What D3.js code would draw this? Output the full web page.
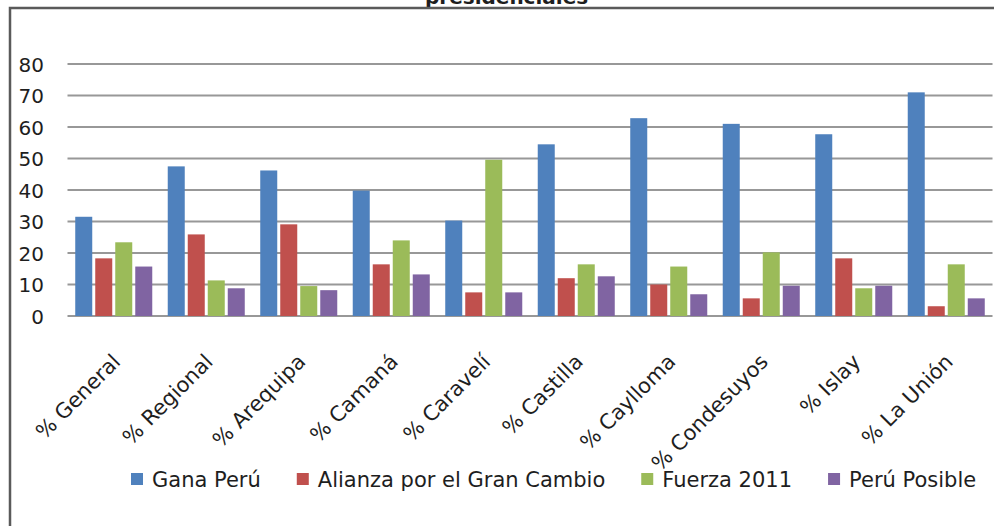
<!DOCTYPE html>
<html>
<head>
<meta charset="utf-8">
<script src="https://cdn.jsdelivr.net/npm/d3@7"></script>
<style>
  html, body { margin: 0; padding: 0; background: #fff; }
  svg { display: block; }
  text { font-family: "DejaVu Sans", sans-serif; fill: #1e1e1e; }
</style>
</head>
<body>
<svg id="chart" width="994" height="526"></svg>
<script>
const categories = ["% General", "% Regional", "% Arequipa", "% Camaná", "% Caravelí",
  "% Castilla", "% Caylloma", "% Condesuyos", "% Islay", "% La Unión"];
const seriesNames = ["Gana Perú", "Alianza por el Gran Cambio", "Fuerza 2011", "Perú Posible"];
const ganaPeru   = [31.5, 47.5, 46.2, 39.8, 30.3, 54.5, 62.8, 61.0, 57.7, 71.0];
const alianza    = [18.3, 25.9, 29.1, 16.4, 7.5, 12.0, 10.0, 5.6, 18.3, 3.1];
const fuerza     = [23.4, 11.3, 9.5, 24.0, 49.6, 16.4, 15.7, 20.2, 8.8, 16.4];
const peruPosible= [15.7, 8.8, 8.2, 13.2, 7.5, 12.6, 6.9, 9.6, 9.6, 5.6];
const yTicks = [0, 10, 20, 30, 40, 50, 60, 70, 80];
const colors = ["#4F81BD", "#C0504D", "#9BBB59", "#8064A2"];
const titleText = "presidenciales";

const seriesValues = [ganaPeru, alianza, fuerza, peruPosible];
const svg = d3.select("#chart");

const plotLeft = 67.5, plotRight = 992.5, plotTop = 64, plotBottom = 316;

const y = d3.scaleLinear().domain([0, 80]).range([plotBottom, plotTop]);
const x0 = d3.scaleBand().domain(categories).range([plotLeft, plotRight])
  .paddingInner(0.135).paddingOuter(0.0675);
const x1 = d3.scaleBand().domain(seriesNames).range([0, x0.bandwidth()]).padding(0);

// Title (only the bottom of it is visible, clipped by the top of the picture)
svg.append("text")
  .attr("x", 425).attr("y", 4)
  .attr("font-size", 20).attr("font-weight", "bold")
  .attr("fill", "#000")
  .text(titleText);

// Gridlines
const grid = svg.append("g");
grid.selectAll("line").data(yTicks).join("line")
  .attr("x1", plotLeft).attr("x2", plotRight)
  .attr("y1", d => y(d)).attr("y2", d => y(d))
  .attr("stroke", "#989898").attr("stroke-width", 2);

// Y axis labels via d3 axis
const yAxis = d3.axisLeft(y).tickValues(yTicks).tickSize(0).tickPadding(0);
const yg = svg.append("g").attr("transform", "translate(44,0)").call(yAxis);
yg.select(".domain").remove();
yg.selectAll("text").attr("font-size", 20).attr("font-family", "DejaVu Sans")
  .attr("fill", "#1e1e1e").attr("dy", "0.36em");

// Bars
const groups = svg.append("g").selectAll("g").data(categories).join("g")
  .attr("transform", d => `translate(${x0(d)},0)`);
groups.selectAll("rect")
  .data((c, i) => seriesNames.map((s, j) => ({ s, v: seriesValues[j][i], j })))
  .join("rect")
  .attr("x", d => x1(d.s) + 1.5)
  .attr("width", x1.bandwidth() - 3)
  .attr("y", d => y(d.v))
  .attr("height", d => y(0) - y(d.v))
  .attr("fill", d => colors[d.j]);

// X labels rotated
const xl = svg.append("g");
xl.selectAll("text").data(categories).join("text")
  .attr("transform", d => `translate(${x0(d) + x0.bandwidth() / 2 + 8},363) rotate(-45)`)
  .attr("text-anchor", "end")
  .attr("font-size", 21)
  .text(d => d);

// Legend
const legend = svg.append("g").attr("transform", "translate(131,479)");
let lx = 0;
seriesNames.forEach((name, j) => {
  const g = legend.append("g").attr("transform", `translate(${lx},0)`);
  g.append("rect").attr("x", 0).attr("y", -6).attr("width", 12).attr("height", 12)
    .attr("fill", colors[j]);
  const t = g.append("text").attr("x", 21).attr("y", 0).attr("dy", "0.36em")
    .attr("font-size", 21).text(name);
  lx += 21 + t.node().getComputedTextLength() + 36;
});

// Frame (left and top borders)
svg.append("path")
  .attr("d", "M10,526 L10,8 L994,8")
  .attr("fill", "none").attr("stroke", "#5a5a5a").attr("stroke-width", 2.5);
</script>
</body>
</html>
